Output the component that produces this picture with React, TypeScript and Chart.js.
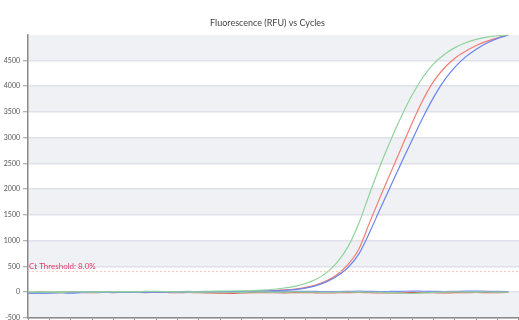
import React, { useEffect, useRef } from 'react';
import { Chart, registerables } from 'chart.js';

Chart.register(...registerables);

const cycles = [0, 1, 2, 3, 4, 5, 6, 7, 8, 9, 10, 11, 12, 13, 14, 15, 16, 17, 18, 19, 20, 21, 22, 23, 24, 25, 26, 27, 28, 29, 30, 31, 32, 33, 34, 35, 36, 37, 38, 39, 40, 41, 42, 43, 44, 45];

const sampleGreen = [3, -5, 2, 6, -3, 4, 0, 5, 8, 3, 6, 10, 14, 9, 12, 15, 13, 17, 20, 22,
  26, 32, 42, 58, 82, 115, 170, 250, 385, 590, 890, 1340, 1910, 2460, 2960, 3420, 3830, 4170, 4430, 4610, 4745, 4840, 4905, 4950, 4975, 4990];
const sampleRed = [-8, 5, -4, 2, 6, -2, 3, -5, 0, 4, -3, 2, 5, 1, -2, 4, 6, 3, 8, 10,
  14, 18, 24, 32, 44, 62, 95, 145, 225, 350, 545, 840, 1350, 1850, 2330, 2810, 3290, 3730, 4090, 4350, 4540, 4675, 4785, 4870, 4935, 4990];
const sampleBlue = [-20, -25, -12, -4, -18, -6, 2, -3, 4, 0, -2, 3, 5, 2, 6, 4, 8, 6, 9, 12,
  12, 16, 21, 28, 38, 52, 80, 128, 205, 320, 485, 745, 1160, 1620, 2070, 2520, 2960, 3390, 3780, 4110, 4365, 4565, 4715, 4835, 4925, 4990];

const controlBlue = [-15, -22, -18, -8, -5, 0, 4, -2, 3, 6, 2, -3, 4, 8, 5, 2, 6, 9, 12, 10, 8, 12, 15, 14, 11, 16, 18, 15, 12, 14, 17, 20, 16, 13, 15, 18, 21, 19, 16, 14, 17, 20, 22, 18, 15, 12];
const controlRed = [-10, -6, -4, -8, -2, -5, -9, -3, -6, -1, -4, -7, -2, -5, -8, -4, -10, -14, -18, -22, -15, -8, -6, -10, -12, -9, -6, -11, -14, -10, -7, -5, -9, -12, -15, -11, -8, -6, -10, -13, -9, -7, -5, -8, -6, -4];
const controlGreen = [2, 5, 0, -3, 4, 8, 3, 6, 10, 12, 8, 15, 18, 12, 6, 4, 2, 5, 3, 0, -2, 4, 2, -1, 3, 5, 2, 0, -3, 1, 4, 2, 0, -2, -8, -18, -25, -14, -4, 2, 5, 3, 1, 4, 2, 3];

const yTickValues = [-500, 0, 500, 1000, 1500, 2000, 2500, 3000, 3500, 4000, 4500];
const xTickValues = [0, 2, 4, 6, 8, 10, 12, 14, 16, 18, 20, 22, 24, 26, 28, 30, 32, 34, 36, 38, 40, 42, 44, 46];

const thresholdValue = 400;
const thresholdLabel = 'Ct Threshold: 8.0%';
const titleText = 'Fluorescence (RFU) vs Cycles';

const X_MIN = 0;
const X_MAX = 47.5;
const Y_MIN = -500;
const Y_MAX = 4990;
const BAND = 500;

const FONT = 'Lato, "Open Sans", sans-serif';

const toPoints = (vals: number[]) => vals.map((v, i) => ({ x: cycles[i], y: v }));

const bandsPlugin = {
  id: 'bands',
  beforeDraw(chart: any) {
    const { ctx, chartArea, scales } = chart;
    const y = scales.y;
    ctx.save();
    ctx.fillStyle = '#f0f1f5';
    for (let k = -1; k * BAND < Y_MAX; k += 2) {
      const top = y.getPixelForValue(Math.min((k + 1) * BAND, Y_MAX));
      const bot = y.getPixelForValue(k * BAND);
      ctx.fillRect(chartArea.left, top, chartArea.right - chartArea.left, bot - top);
    }
    ctx.restore();
  },
  afterDatasetsDraw(chart: any) {
    const { ctx, chartArea, scales } = chart;
    const py = scales.y.getPixelForValue(thresholdValue);
    ctx.save();
    ctx.font = `8px ${FONT}`;
    ctx.fillStyle = '#e03a68';
    ctx.textAlign = 'left';
    ctx.textBaseline = 'middle';
    ctx.fillText(thresholdLabel, chartArea.left + 1, py - 5);
    ctx.restore();
  },
};

export default function App() {
  const ref = useRef<HTMLCanvasElement | null>(null);

  useEffect(() => {
    if (!ref.current) return;
    const line = (data: number[], color: string) => ({
      data: toPoints(data),
      borderColor: color,
      backgroundColor: color,
      borderWidth: 1.2,
      pointRadius: 0,
      cubicInterpolationMode: 'monotone',
      fill: false,
    });
    const chart = new Chart(ref.current, {
      type: 'line',
      data: {
        datasets: [
          {
            data: [{ x: X_MIN, y: thresholdValue }, { x: X_MAX, y: thresholdValue }],
            borderColor: '#f5c8b6',
            borderWidth: 1,
            borderDash: [2, 2],
            pointRadius: 0,
            fill: false,
          },
          line(controlGreen, '#8fd39a'),
          line(controlBlue, '#7a8ff0'),
          line(sampleGreen, '#8fd39a'),
          line(sampleBlue, '#6a84ee'),
          line(sampleRed, '#f27c72'),
          line(controlRed, '#e0605a'),
        ] as any,
      },
      options: {
        animation: false,
        responsive: false,
        maintainAspectRatio: false,
        layout: { padding: { left: 0, right: 0, top: 0, bottom: 0 } },
        plugins: {
          legend: { display: false },
          tooltip: { enabled: false },
          title: {
            display: true,
            text: titleText,
            color: '#444',
            font: { size: 9, family: FONT, weight: 'normal' as any },
            padding: { top: 18, bottom: 6.2 },
          },
        },
        scales: {
          x: {
            type: 'linear',
            min: X_MIN,
            max: X_MAX,
            afterBuildTicks: (s: any) => {
              s.ticks = xTickValues.map((v) => ({ value: v }));
            },
            afterFit: (s: any) => {
              s.height = 2;
              s.paddingLeft = 0;
              s.paddingRight = 0;
            },
            ticks: { display: false },
            grid: {
              drawOnChartArea: false,
              drawTicks: true,
              tickLength: 8,
              tickColor: '#8a8a8a',
              tickWidth: 1,
            },
            border: { color: '#8a8a8a', width: 1.5 },
          },
          y: {
            type: 'linear',
            min: Y_MIN,
            max: Y_MAX,
            afterBuildTicks: (s: any) => {
              s.ticks = yTickValues.map((v) => ({ value: v }));
            },
            afterFit: (s: any) => {
              s.width = 28;
              s.paddingTop = 0;
              s.paddingBottom = 0;
            },
            ticks: {
              color: '#555',
              font: { size: 7, family: FONT },
              padding: 3,
              callback: (v: any) => String(v),
            },
            grid: {
              color: '#dfe2eb',
              lineWidth: 1.5,
              tickLength: 5,
              tickColor: '#9a9a9a',
              tickWidth: 1,
            },
            border: { color: '#8a8a8a', width: 1.5 },
          },
        },
      },
      plugins: [bandsPlugin],
    });
    return () => chart.destroy();
  }, []);

  return (
    <div style={{ position: 'absolute', left: 0, top: 0, width: 519, height: 320, overflow: 'hidden', background: '#fff' }}>
      <canvas ref={ref} width={535} height={320} style={{ width: 535, height: 320, display: 'block' }} />
    </div>
  );
}
